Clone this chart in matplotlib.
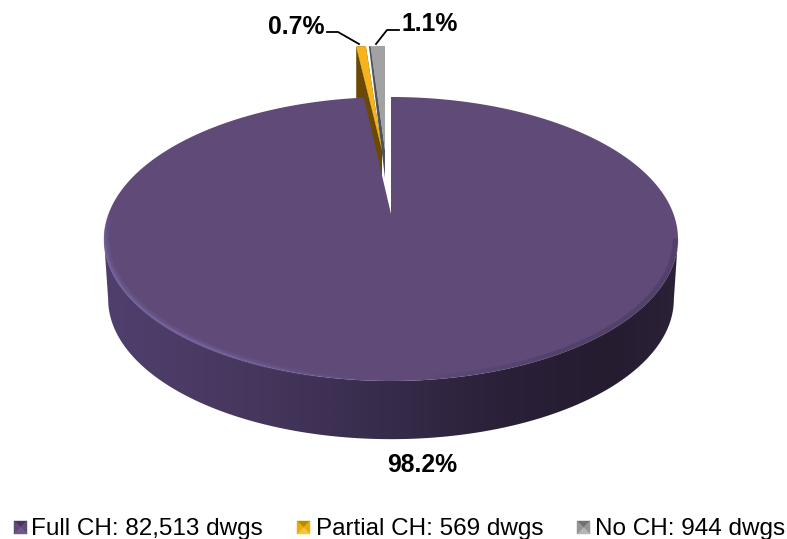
import numpy as np
import matplotlib
matplotlib.use("Agg")
import matplotlib.pyplot as plt
from matplotlib.collections import LineCollection
from matplotlib.colors import LinearSegmentedColormap
from matplotlib.patches import Polygon

plt.rcParams['font.family'] = ['Liberation Sans', 'DejaVu Sans']

# Data
categories = ["Full CH", "Partial CH", "No CH"]
dwellings = [82513, 569, 944]
percent_labels = ["98.2%", "0.7%", "1.1%"]
legend_labels = ["Full CH: 82,513 dwgs", "Partial CH: 569 dwgs", "No CH: 944 dwgs"]

# Styles
face_cols = ["#5f4a78", "#f6b31c", "#a2a2a2"]
side_cols = [None, "#6a4a02", "#50525a"]
legend_cols = [("#5f4a78", "#46375f", "#6c5a88", "#3c2f52"),
               ("#e8ae08", "#b98a00", "#f6c63a", "#8f6a00"),
               ("#959595", "#707070", "#b5b5b5", "#5c5c5c")]

W, H = 787, 539
fig = plt.figure(figsize=(W / 100, H / 100), dpi=100)
ax = fig.add_axes([0, 0, 1, 1])

# projective view of the pie disc
P = 0.176
R = 282.5
HH = 137.6
DROP = 61.0


def project(theta, r=1.0, cx=391.0, cy=214.0, sx=1.0, sy=1.0, drop=0.0):
    t = np.radians(theta)
    u, v = r * np.sin(t), r * np.cos(t)
    w = 1 + P * v
    return cx + sx * R * u / w, cy - sy * HH * v / w + drop


frac = np.array(dwellings) / np.sum(dwellings)
edges = np.concatenate([[0], np.cumsum(frac) * 360])

# exploded small slices (behind the big one)
for i, (apex_x, tweak) in zip([1, 2], [(382.0, 0.0), (385.0, 1.5)]):
    a0, a1 = edges[i], edges[i + 1]
    kw = dict(cx=apex_x, cy=150.0, sx=0.95, sy=0.889)
    th = np.linspace(a0, a1, 8)
    xa, ya = project(th, **kw)
    if i == 1:
        side = [(xa[0], ya[0]), (xa[0], ya[0] + 60), (apex_x, 150 + 60), (apex_x, 150)]
        ax.add_patch(Polygon(side, closed=True, fc=side_cols[i], ec="none", zorder=2))
        ax.add_patch(Polygon(list(zip(xa, ya)) + [(apex_x, 150)], closed=True,
                             fc=side_cols[i], ec="none", zorder=2))
    else:
        dark = [(xa[0], ya[0]), (xa[0] + 2, ya[0]), (apex_x, 150), (apex_x, 178)]
        ax.add_patch(Polygon(dark, closed=True, fc=side_cols[i], ec="none", zorder=2))
    ax.add_patch(Polygon(list(zip(xa + tweak * (a1 - th) / (a1 - a0), ya)) + [(apex_x, 150)],
                         closed=True, fc=face_cols[i], ec="none", zorder=3))

# side wall of the big slice: horizontal gradient clipped to the wall outline
cmap = LinearSegmentedColormap.from_list("wall", [
    (0.00, "#4e3f6e"), (0.17, "#4a3a63"), (0.34, "#413358"), (0.52, "#352a48"),
    (0.70, "#2a2038"), (0.88, "#251c30"), (1.00, "#2b2138")])
ths = np.linspace(100.1, 259.9, 260)
xt, yt = project(ths)
xb, yb = project(ths, r=0.986, drop=DROP)
wall = Polygon(list(zip(xt, yt)) + list(zip(xb[::-1], yb[::-1])), closed=True,
               transform=ax.transData, fc="none", ec="none")
ax.add_patch(wall)
im = ax.imshow(np.linspace(0, 1, 574)[None, :], cmap=cmap, vmin=0, vmax=1,
               extent=(104, 678, 460, 200), aspect="auto", zorder=4, interpolation="bilinear")
im.set_clip_path(wall)

# top face of the big slice
th = np.linspace(edges[0], edges[1], 500)
xf, yf = project(th)
ax.add_patch(Polygon(list(zip(xf, yf)) + [(391, 214)], closed=True,
                     fc=face_cols[0], ec="none", zorder=5))


def rim(t0, t1, r, color, alpha_fn, lw):
    t = np.linspace(t0, t1, 160)
    x, y = project(t, r=r)
    pts = np.column_stack([x, y])
    segs = np.stack([pts[:-1], pts[1:]], axis=1)
    base = matplotlib.colors.to_rgb(color)
    s = np.linspace(0, 1, len(segs))
    rgba = [(*base, float(a)) for a in alpha_fn(s)]
    ax.add_collection(LineCollection(segs, colors=rgba, linewidths=lw, zorder=6, capstyle="butt"))


# soft bevel along the rim: light on the front-left, dark on the right
fade = lambda s: np.minimum(1, 6 * s) * np.minimum(1, 3 * (1 - s))
rim(183, 272, 0.992, "#6f5d96", lambda s: 0.45 * fade(1 - s), 4.0)
rim(183, 272, 0.996, "#7a68a2", lambda s: 0.7 * fade(1 - s), 1.6)
rim(100, 175, 0.992, "#3a2d4e", lambda s: 0.3 * np.minimum(1, 3 * (1 - s)), 4.0)

# percentage labels and leaders
ax.text(422, 465, percent_labels[0], ha="center", va="center", fontsize=17.8, fontweight="bold", color="black", zorder=8)
ax.text(296, 27, percent_labels[1], ha="center", va="center", fontsize=17.8, fontweight="bold", color="black", zorder=8)
ax.text(430, 24, percent_labels[2], ha="center", va="center", fontsize=17.8, fontweight="bold", color="black", zorder=8)
ax.plot([327, 338, 359], [32, 32, 44], color="black", lw=1.3, zorder=8)
ax.plot([399, 387, 376], [30, 30, 44], color="black", lw=1.3, zorder=8)

# legend
legend_x = [14, 297, 577]
text_x = [31, 316, 595]
size = 13
top = 521
for lx, tx, lab, cols in zip(legend_x, text_x, legend_labels, legend_cols):
    cx, cy = lx + size / 2, top + size / 2
    corners = [(lx, top), (lx + size, top), (lx + size, top + size), (lx, top + size)]
    order = [cols[1], cols[0], cols[2], cols[0]]
    for k in range(4):
        ax.add_patch(Polygon([corners[k], corners[(k + 1) % 4], (cx, cy)], closed=True,
                             fc=order[k], ec=order[k], lw=0.3, zorder=8))
    ax.text(tx, 535, lab, ha="left", va="baseline", fontsize=17.5, color="black", zorder=8)

ax.set_xlim(0, W)
ax.set_ylim(H, 0)
ax.axis("off")
fig.savefig("out.png", dpi=100, facecolor="white")
